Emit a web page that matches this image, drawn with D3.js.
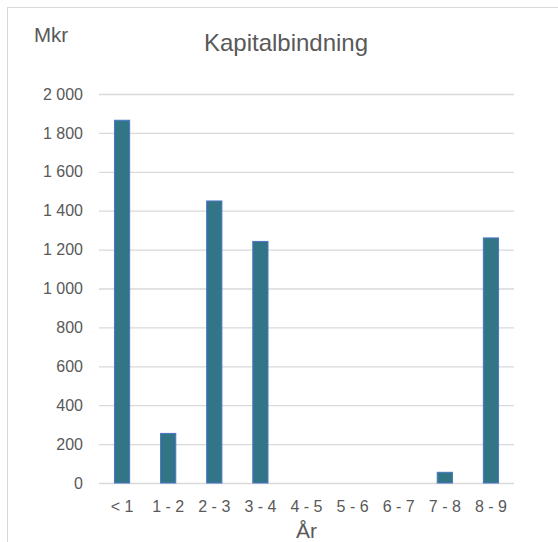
<!DOCTYPE html>
<html>
<head>
<meta charset="utf-8">
<script src="https://cdn.jsdelivr.net/npm/d3@7"></script>
<style>
  html, body { margin: 0; padding: 0; background: #fff; }
  svg { display: block; font-family: "Liberation Sans", Arial, sans-serif; }
</style>
</head>
<body>
<svg id="chart" width="558" height="542"></svg>
<script>
const categories = ["< 1", "1 - 2", "2 - 3", "3 - 4", "4 - 5", "5 - 6", "6 - 7", "7 - 8", "8 - 9"];
const values = [1865, 255, 1450, 1242, 0, 0, 0, 55, 1260];
const yTicks = [0, 200, 400, 600, 800, 1000, 1200, 1400, 1600, 1800, 2000];
const titleText = "Kapitalbindning";
const yUnitText = "Mkr";
const xTitleText = "År";

(function () {
const svg = d3.select("#chart");
const textColor = "#595959";
const gridColor = "#d9d9d9";

// chart border (extends beyond the window on right and bottom)
svg.append("rect")
  .attr("x", 7.5).attr("y", 7.5)
  .attr("width", 600).attr("height", 600)
  .attr("fill", "#fff")
  .attr("stroke", gridColor)
  .attr("stroke-width", 1);

const pLeft = 99, pRight = 514, pTop = 94, pBottom = 483;

const x = d3.scaleBand().domain(categories).range([pLeft, pRight]).paddingInner(0.67).paddingOuter(0.335);
const y = d3.scaleLinear().domain([0, 2000]).range([pBottom, pTop]);

const fmt = v => d3.format(",")(v).replace(/,/g, "\u00a0");

// gridlines + y labels
const yAxis = d3.axisLeft(y).tickValues(yTicks).tickSize(-(pRight - pLeft)).tickPadding(16).tickFormat(fmt);
const gy = svg.append("g").attr("transform", `translate(${pLeft},0)`).call(yAxis);
gy.select(".domain").remove();
gy.selectAll(".tick line").attr("stroke", gridColor).attr("stroke-width", 1.3);
gy.selectAll(".tick text").attr("fill", textColor).attr("font-size", "16px")
  .attr("font-family", "Liberation Sans, Arial, sans-serif");

// bars
svg.append("g").selectAll("rect")
  .data(categories.map((c, i) => ({ c, v: values[i] })).filter(d => d.v > 0))
  .join("rect")
  .attr("x", d => x(d.c))
  .attr("width", x.bandwidth())
  .attr("y", d => y(d.v))
  .attr("height", d => y(0) - y(d.v))
  .attr("fill", "#327587")
  .attr("stroke", "#4a76c6")
  .attr("stroke-width", 1);

// x axis labels
const xAxis = d3.axisBottom(x).tickSize(0).tickPadding(18);
const gx = svg.append("g").attr("transform", `translate(0,${pBottom})`).call(xAxis);
gx.select(".domain").remove();
gx.selectAll(".tick text").attr("fill", textColor).attr("font-size", "16px")
  .attr("font-family", "Liberation Sans, Arial, sans-serif");

// titles
svg.append("text").attr("x", 286).attr("y", 51).attr("text-anchor", "middle")
  .attr("fill", textColor).attr("font-size", "24px").text(titleText);

svg.append("text").attr("x", 34).attr("y", 41.5).attr("text-anchor", "start")
  .attr("fill", textColor).attr("font-size", "20.5px").text(yUnitText);

svg.append("text").attr("x", 306.5).attr("y", 538).attr("text-anchor", "middle")
  .attr("fill", textColor).attr("font-size", "21px").text(xTitleText);
})();
</script>
</body>
</html>
